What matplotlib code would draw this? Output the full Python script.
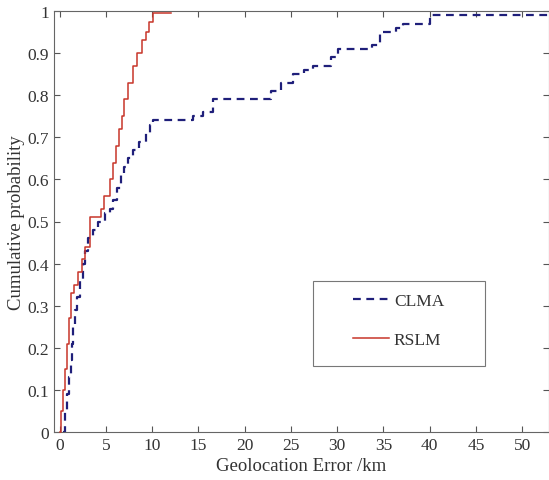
import matplotlib
matplotlib.use("Agg")
import matplotlib.pyplot as plt
from matplotlib.patches import Rectangle

plt.rcParams['font.family'] = ['Liberation Serif', 'DejaVu Serif']

# RSLM step points (error km, cumulative probability)
rslm_x = [0.0, 0.2, 0.4, 0.6, 0.8, 1.0, 1.2, 1.6, 2.0, 2.4, 2.8, 3.3, 4.5, 4.8,
          5.5, 5.8, 6.1, 6.4, 6.7, 7.0, 7.4, 7.9, 8.4, 8.9, 9.3, 9.7, 10.1, 12.0]
rslm_y = [0.00, 0.05, 0.10, 0.15, 0.21, 0.27, 0.33, 0.35, 0.38, 0.41, 0.44, 0.51, 0.53, 0.56,
          0.60, 0.64, 0.68, 0.72, 0.75, 0.79, 0.83, 0.87, 0.90, 0.93, 0.95, 0.975, 0.995, 0.995]

# CLMA step points
clma_x = [0.4, 0.6, 0.8, 1.0, 1.2, 1.3, 1.5, 1.7, 1.9, 2.2, 2.5, 2.8, 3.1, 3.6, 4.2,
          4.9, 5.4, 5.8, 6.2, 6.6, 7.0, 7.4, 7.9, 8.6, 9.3, 9.8, 10.1, 14.4, 15.5, 16.6,
          22.9, 23.9, 25.2, 26.4, 27.4, 29.3, 30.1, 33.8, 34.6, 36.4, 37.1, 40.0, 53.0]
clma_y = [0.00, 0.05, 0.09, 0.13, 0.17, 0.21, 0.25, 0.29, 0.32, 0.36, 0.40, 0.43, 0.46, 0.48, 0.50,
          0.52, 0.53, 0.55, 0.58, 0.61, 0.63, 0.65, 0.67, 0.69, 0.71, 0.73, 0.74, 0.75, 0.76, 0.79,
          0.81, 0.83, 0.85, 0.86, 0.87, 0.89, 0.91, 0.92, 0.95, 0.96, 0.97, 0.99, 0.99]

x_ticks = [0, 5, 10, 15, 20, 25, 30, 35, 40, 45, 50]
y_ticks = [0, 0.1, 0.2, 0.3, 0.4, 0.5, 0.6, 0.7, 0.8, 0.9, 1]
y_tick_labels = ['0', '0.1', '0.2', '0.3', '0.4', '0.5', '0.6', '0.7', '0.8', '0.9', '1']

fig = plt.figure(figsize=(5.49, 4.81), dpi=100)
ax = fig.add_axes([54/549, 1-433/481, (549-54)/549, (433-12)/481])

text_c = '#333333'
ax.step(clma_x, clma_y, where='post', color='#1f1f7a', lw=1.6,
        linestyle=(0, (3.5, 2.5)), label='CLMA')
ax.step(rslm_x, rslm_y, where='post', color='#c8352a', lw=1.1, label='RSLM',
        clip_on=False, zorder=6)

ax.set_xlim(-0.6, 52.9)
ax.set_ylim(0, 1)
ax.set_xticks(x_ticks)
ax.set_yticks(y_ticks)
ax.set_yticklabels(y_tick_labels)
ax.tick_params(direction='in', top=True, right=True, length=4, width=0.8,
               colors='#555555', labelcolor=text_c, labelsize=12.5)
for s in ax.spines.values():
    s.set_color('#666666')
    s.set_linewidth(0.8)

ax.set_xlabel('Geolocation Error /km', fontsize=13.5, color=text_c, labelpad=3)
ax.set_ylabel('Cumulative probability', fontsize=13.5, color=text_c, labelpad=2)

# legend box
ax.add_patch(Rectangle((0.523, 0.157), 0.348, 0.202, transform=ax.transAxes,
                       fill=False, edgecolor='#777777', lw=0.8, zorder=5))
leg = ax.legend(loc='upper left', bbox_to_anchor=(0.604, 0.33), frameon=False,
                borderpad=0, borderaxespad=0, handlelength=2.1, handletextpad=0.25,
                labelspacing=1.3, fontsize=12.5)
for t in leg.get_texts():
    t.set_color(text_c)

fig.savefig('out.png', dpi=100)
